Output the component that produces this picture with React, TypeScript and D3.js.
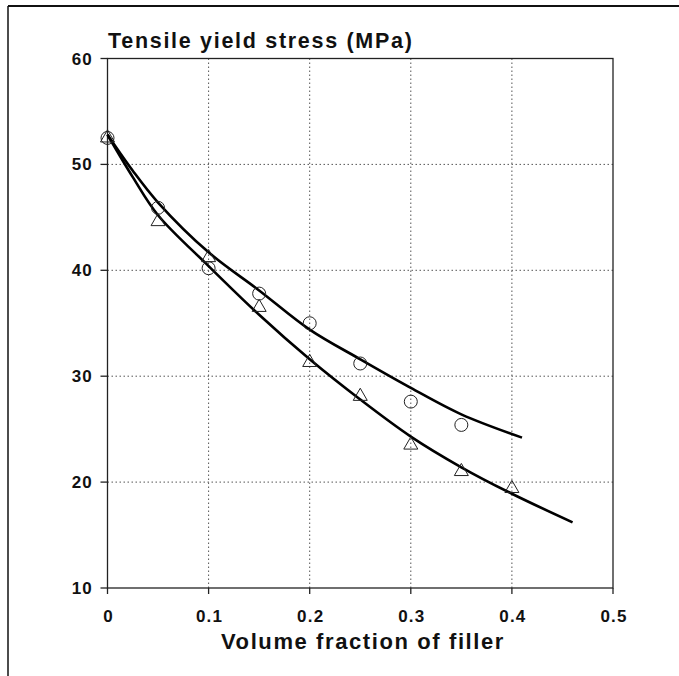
import * as d3 from 'd3'
import { useEffect, useRef } from 'react'

// measured points
const circleX = [0, 0.05, 0.1, 0.15, 0.2, 0.25, 0.3, 0.35]
const circleY = [52.5, 45.9, 40.2, 37.8, 35.0, 31.2, 27.6, 25.4]
const triangleX = [0, 0.05, 0.1, 0.15, 0.2, 0.25, 0.3, 0.35, 0.4]
const triangleY = [52.5, 44.6, 41.2, 36.5, 31.3, 28.1, 23.5, 21.0, 19.4]

// fitted curves
const upperX = [0, 0.025, 0.05, 0.1, 0.15, 0.2, 0.25, 0.3, 0.35, 0.41]
const upperY = [52.8, 49.4, 46.4, 41.7, 38.1, 34.4, 31.6, 28.9, 26.4, 24.2]
const lowerX = [0, 0.025, 0.05, 0.1, 0.15, 0.2, 0.25, 0.3, 0.35, 0.4, 0.46]
const lowerY = [52.8, 48.8, 45.2, 40.4, 35.8, 31.6, 27.8, 24.3, 21.4, 18.9, 16.2]

const xTicks = [0, 0.1, 0.2, 0.3, 0.4, 0.5]
const yTicks = [10, 20, 30, 40, 50, 60]

export default function App() {
  const svgRef = useRef<SVGSVGElement>(null)

  useEffect(() => {
    const svg = d3.select(svgRef.current)
    svg.selectAll('*').remove()
    const font = '"Liberation Sans", Arial, sans-serif'

    const x = d3.scaleLinear().domain([0, 0.5]).range([107.5, 613])
    const y = d3.scaleLinear().domain([10, 60]).range([588, 58.5])

    // outer frame
    svg.append('line').attr('x1', 8).attr('x2', 679).attr('y1', 6).attr('y2', 6)
      .attr('stroke', '#111').attr('stroke-width', 2)
    svg.append('line').attr('x1', 8).attr('x2', 8).attr('y1', 6).attr('y2', 676)
      .attr('stroke', '#111').attr('stroke-width', 1.5)

    // grid
    svg.append('g').selectAll('line').data(xTicks.slice(1, -1)).join('line')
      .attr('x1', d => x(d)).attr('x2', d => x(d))
      .attr('y1', y(60)).attr('y2', y(10))
      .attr('stroke', '#555').attr('stroke-width', 1).attr('stroke-dasharray', '1.5,2.5')
    svg.append('g').selectAll('line').data(yTicks.slice(1, -1)).join('line')
      .attr('y1', d => y(d)).attr('y2', d => y(d))
      .attr('x1', x(0)).attr('x2', x(0.5))
      .attr('stroke', '#555').attr('stroke-width', 1).attr('stroke-dasharray', '1.5,2.5')

    // plot box
    svg.append('rect').attr('x', x(0)).attr('y', y(60))
      .attr('width', x(0.5) - x(0)).attr('height', y(10) - y(60))
      .attr('fill', 'none').attr('stroke', '#222').attr('stroke-width', 1.3)

    // ticks
    svg.append('g').selectAll('line').data(yTicks).join('line')
      .attr('x1', x(0) - 7).attr('x2', x(0)).attr('y1', d => y(d)).attr('y2', d => y(d))
      .attr('stroke', '#222').attr('stroke-width', 1.3)
    svg.append('g').selectAll('line').data(xTicks).join('line')
      .attr('x1', d => x(d)).attr('x2', d => x(d)).attr('y1', y(10)).attr('y2', y(10) + 6)
      .attr('stroke', '#222').attr('stroke-width', 1.3)

    svg.append('g').selectAll('text').data(yTicks).join('text')
      .attr('x', 93).attr('y', d => y(d) + 6)
      .attr('text-anchor', 'end').attr('font-family', font).attr('font-weight', 'bold')
      .attr('font-size', 17).attr('letter-spacing', 1.2).attr('fill', '#111').text(d => d)
    svg.append('g').selectAll('text').data(xTicks).join('text')
      .attr('x', d => x(d) + 1).attr('y', 622)
      .attr('text-anchor', 'middle').attr('font-family', font).attr('font-weight', 'bold')
      .attr('font-size', 17).attr('letter-spacing', 1.2).attr('fill', '#111')
      .text(d => (d === 0 ? '0' : String(d)))

    svg.append('text').attr('x', 108).attr('y', 48)
      .attr('font-family', font).attr('font-weight', 'bold').attr('font-size', 21.5)
      .attr('letter-spacing', 1.7).attr('fill', '#111').text('Tensile yield stress (MPa)')
    svg.append('text').attr('x', 363).attr('y', 649).attr('text-anchor', 'middle')
      .attr('font-family', font).attr('font-weight', 'bold').attr('font-size', 22)
      .attr('letter-spacing', 1.6).attr('fill', '#111').text('Volume fraction of filler')

    // curves
    const line = d3.line<[number, number]>()
      .x(d => x(d[0])).y(d => y(d[1])).curve(d3.curveCatmullRom)
    svg.append('path').datum(d3.zip(upperX, upperY) as [number, number][])
      .attr('d', line).attr('fill', 'none').attr('stroke', '#000').attr('stroke-width', 2.6)
    svg.append('path').datum(d3.zip(lowerX, lowerY) as [number, number][])
      .attr('d', line).attr('fill', 'none').attr('stroke', '#000').attr('stroke-width', 2.6)

    // markers
    svg.append('g').selectAll('circle').data(d3.zip(circleX, circleY)).join('circle')
      .attr('cx', d => x(d[0])).attr('cy', d => y(d[1])).attr('r', 6.5)
      .attr('fill', 'none').attr('stroke', '#222').attr('stroke-width', 1)
    const tri = d3.symbol().type(d3.symbolTriangle).size(85)
    svg.append('g').selectAll('path').data(d3.zip(triangleX, triangleY)).join('path')
      .attr('transform', d => `translate(${x(d[0])},${y(d[1])})`)
      .attr('d', tri).attr('fill', 'none').attr('stroke', '#222').attr('stroke-width', 1)
  }, [])

  return (
    <svg ref={svgRef} width={679} height={676}
      style={{ position: 'absolute', left: 0, top: 0, background: '#fff' }} />
  )
}
